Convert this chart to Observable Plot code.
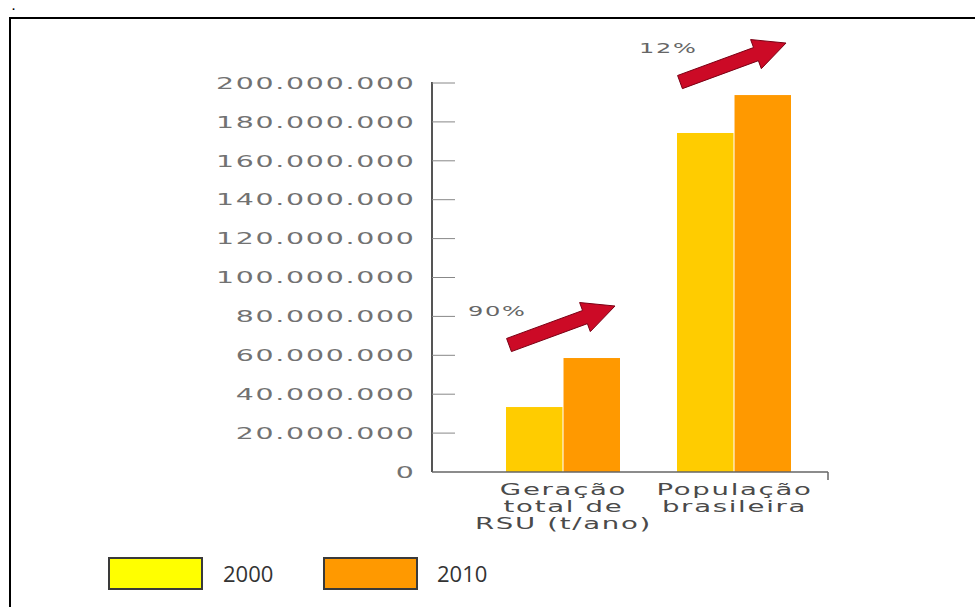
<!DOCTYPE html>
<html>
<head>
<meta charset="utf-8">
<script src="https://cdn.jsdelivr.net/npm/d3@7"></script>
<script src="https://cdn.jsdelivr.net/npm/@observablehq/plot@0.6"></script>
<style>
  html, body { margin: 0; padding: 0; background: #fff; width: 975px; height: 607px; overflow: hidden; }
  #dot { position: absolute; left: 12px; top: 0; font: bold 11px "Liberation Sans", sans-serif; color: #000; line-height: 13px; }
  #frame { position: absolute; left: 9px; top: 17px; width: 1100px; height: 800px; border: 2px solid #000; box-sizing: border-box; }
  #chart { position: absolute; left: 0; top: 0; }
  #chart svg text { letter-spacing: 1px; }
  .key { position: absolute; top: 557px; width: 95px; height: 33px; border: 2px solid #3a3a3a; box-sizing: border-box; }
  .keylabel { position: absolute; top: 558px; font: 22px "Open Sans", sans-serif; color: #333; line-height: 30px; }
</style>
</head>
<body>
<div id="dot">.</div>
<div id="frame"></div>
<div id="chart"></div>
<div id="legend"></div>
<script>
// Categories and their (wrapped) axis labels
const categories = ["Geração total de RSU (t/ano)", "População brasileira"];
const categoryLabels = ["Geração\ntotal de\nRSU (t/ano)", "População\nbrasileira"];

// Series values
const years = ["2000", "2010"];
const values2000 = [33400000, 174300000];
const values2010 = [58600000, 193800000];

// Growth between the two years
const growth = ["90%", "12%"];

// Y axis ticks
const yTicks = [0, 20000000, 40000000, 60000000, 80000000, 100000000, 120000000, 140000000, 160000000, 180000000, 200000000];

// Colours
const barColors = ["#FFCC00", "#FF9900"];
const legendColors = ["#FFFF00", "#FF9900"];
const arrowColor = "#CC0A26";

const ptBR = d3.formatLocale({decimal: ",", thousands: ".", grouping: [3], currency: ["R$", ""]});
const fmt = ptBR.format(",");

const W = 975, H = 540;
const margin = {top: 83, right: 147, bottom: 68, left: 432};
const xPad = {paddingInner: 0.331, paddingOuter: 0.317, align: 0.67};

// Band width of each category group, used to split it into the two year bars
const band = d3.scaleBand().domain(categories)
  .range([margin.left, W - margin.right])
  .paddingInner(xPad.paddingInner).paddingOuter(xPad.paddingOuter).align(xPad.align);
const half = band.bandwidth() / 2;

const rows = categories.flatMap((c, i) => [
  {category: c, year: years[0], value: values2000[i]},
  {category: c, year: years[1], value: values2010[i]}
]);
const labelRows = categories.map((c, i) => ({category: c, label: categoryLabels[i], base: 0}));
const growthRows = categories.map((c, i) => ({category: c, top: values2010[i], text: growth[i]}));

// Axis lines, right-pointing ticks and the end mark of the baseline
function axisLines(index, scales, values, dim) {
  const g = d3.create("svg:g");
  const x0 = dim.marginLeft, x1 = dim.width - dim.marginRight;
  const yb = scales.y(0), yt = scales.y(yTicks[yTicks.length - 1]);
  g.append("line").attr("x1", x0).attr("x2", x0).attr("y1", yt - 1).attr("y2", yb)
    .attr("stroke", "#555").attr("stroke-width", 2);
  g.append("line").attr("x1", x0).attr("x2", x1).attr("y1", yb).attr("y2", yb)
    .attr("stroke", "#666").attr("stroke-width", 1.5);
  g.append("line").attr("x1", x1).attr("x2", x1).attr("y1", yb).attr("y2", yb + 8)
    .attr("stroke", "#666").attr("stroke-width", 1.5);
  for (const t of yTicks) {
    if (t === 0) continue;
    g.append("line").attr("x1", x0).attr("x2", x0 + 23)
      .attr("y1", scales.y(t)).attr("y2", scales.y(t))
      .attr("stroke", "#888").attr("stroke-width", 1);
  }
  return g.node();
}

// Block arrows showing growth over each group
function growthArrows(index, scales) {
  const g = d3.create("svg:g");
  const bw = typeof scales.x.bandwidth === "function" ? scales.x.bandwidth() : half * 2;
  categories.forEach((c, i) => {
    const tx = scales.x(c) + 3, ty = scales.y(values2010[i]) - 13;
    const px = scales.x(c) + bw - 5, py = ty - 39;
    const dx = px - tx, dy = py - ty, len = Math.hypot(dx, dy);
    const ux = dx / len, uy = dy / len, nx = -uy, ny = ux;
    const shaft = 14, head = 31, headLen = 32;
    const hx = px - ux * headLen, hy = py - uy * headLen;
    const pts = [
      [tx + nx * shaft / 2, ty + ny * shaft / 2],
      [hx + nx * shaft / 2, hy + ny * shaft / 2],
      [hx + nx * head / 2, hy + ny * head / 2],
      [px, py],
      [hx - nx * head / 2, hy - ny * head / 2],
      [hx - nx * shaft / 2, hy - ny * shaft / 2],
      [tx - nx * shaft / 2, ty - ny * shaft / 2]
    ];
    g.append("polygon").attr("points", pts.map(p => p.join(",")).join(" "))
      .attr("fill", arrowColor).attr("stroke", "#7a0014").attr("stroke-width", 1)
      .attr("stroke-linejoin", "round");
  });
  return g.node();
}

const chart = Plot.plot({
  width: W,
  height: H,
  marginTop: margin.top,
  marginRight: margin.right,
  marginBottom: margin.bottom,
  marginLeft: margin.left,
  style: {background: "transparent", fontFamily: "DejaVu Sans, sans-serif", fontSize: "16.5px", color: "#727272", overflow: "visible"},
  x: {domain: categories, ...xPad, axis: null},
  y: {domain: [0, 200000000], ticks: yTicks, tickFormat: fmt, tickSize: 0, tickPadding: 17, label: null},
  marks: [
    Plot.barY(rows.filter(d => d.year === years[0]), {x: "category", y: "value", fill: barColors[0], insetRight: half}),
    Plot.barY(rows.filter(d => d.year === years[1]), {x: "category", y: "value", fill: barColors[1], insetLeft: half}),
    axisLines,
    Plot.text(labelRows, {x: "category", y: "base", text: "label", lineAnchor: "top", dy: 10, lineHeight: 1.08,
      fontSize: 16, fill: "#4a4a4a"}),
    growthArrows,
    Plot.text(growthRows, {x: "category", y: "top", text: "text", textAnchor: "start", dx: -half - 38, dy: -47,
      fontSize: 14, fill: "#666"})
  ]
});

document.getElementById("chart").appendChild(chart);

// Wide lettering: stretch each label horizontally
const STRETCH = 1.72;
chart.querySelectorAll("text").forEach(t => {
  const spans = t.querySelectorAll("tspan");
  const targets = spans.length ? Array.from(spans) : [t];
  targets.forEach(el => {
    const w = el.getComputedTextLength();
    if (w > 0) {
      el.setAttribute("textLength", (w * STRETCH).toFixed(1));
      el.setAttribute("lengthAdjust", "spacingAndGlyphs");
    }
  });
});

// Legend
const legend = document.getElementById("legend");
const keyLeft = [108, 323], labelLeft = [223, 437];
years.forEach((yr, i) => {
  const box = document.createElement("div");
  box.className = "key";
  box.style.left = keyLeft[i] + "px";
  box.style.background = legendColors[i];
  legend.appendChild(box);
  const lab = document.createElement("div");
  lab.className = "keylabel";
  lab.style.left = labelLeft[i] + "px";
  lab.textContent = yr;
  legend.appendChild(lab);
});
</script>
</body>
</html>
